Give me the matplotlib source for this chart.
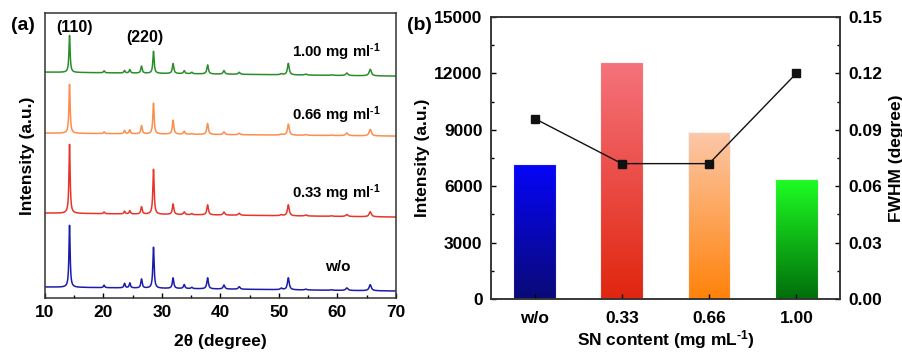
import numpy as np
import matplotlib
matplotlib.use("Agg")
import matplotlib.pyplot as plt
from matplotlib.colors import LinearSegmentedColormap

plt.rcParams['font.family'] = ['Liberation Sans', 'DejaVu Sans']
plt.rcParams['font.weight'] = 'bold'
plt.rcParams['mathtext.fontset'] = 'custom'
plt.rcParams['mathtext.rm'] = 'Liberation Sans:bold'
plt.rcParams['mathtext.bf'] = 'Liberation Sans:bold'
plt.rcParams['mathtext.default'] = 'bf'

# ---------------- data: XRD panel (a) ----------------
peak_pos = [14.2, 20.1, 23.6, 24.5, 26.5, 28.55, 31.9, 33.8, 35.1, 37.8,
            40.6, 43.2, 50.4, 51.6, 54.6, 59.0, 61.6, 65.6]
peak_hwhm = [0.12, 0.12, 0.13, 0.13, 0.14, 0.13, 0.15, 0.15, 0.15, 0.16,
             0.17, 0.18, 0.2, 0.18, 0.2, 0.2, 0.22, 0.22]
h_wo = [62, 2.5, 4.5, 5, 9, 41, 10.5, 4, 1.3, 11, 4, 2.5, 1.5, 12, 0.8, 0.5, 2.5, 6]
h_033 = [69, 1.7, 2.7, 3.3, 7.3, 45, 10.5, 2.7, 1, 10, 3, 2, 1, 11, 1, 0.5, 2, 5]
h_066 = [49, 1.7, 3.3, 4, 8.3, 30.7, 14, 3, 0.7, 11, 2.7, 1.5, 1, 11, 0.7, 0.5, 2.7, 6.5]
h_100 = [37, 2, 2.5, 3.5, 7, 22, 10, 3, 1.5, 9, 3.5, 2, 1, 11.5, 1, 0.5, 2.5, 6.5]
baselines = {'w/o': (11, 7), '0.33': (85, 81), '0.66': (165, 162), '1.00': (226, 222)}
xrd_colors = {'w/o': '#1c1caa', '0.33': '#e8352b', '0.66': '#ff8c4c', '1.00': '#2a8c2a'}
xrd_heights = {'w/o': h_wo, '0.33': h_033, '0.66': h_066, '1.00': h_100}
xrd_labels = {'w/o': 'w/o', '0.33': r'0.33 mg ml$^{\text{-1}}$',
              '0.66': r'0.66 mg ml$^{\text{-1}}$', '1.00': r'1.00 mg ml$^{\text{-1}}$'}

# ---------------- data: panel (b) ----------------
categories = ['w/o', '0.33', '0.66', '1.00']
intensity = [7200, 12600, 8900, 6400]
fwhm = [0.096, 0.072, 0.072, 0.120]
grad_top = ['#0505fa', '#f5737c', '#fcc8aa', '#1eff23']
grad_bot = ['#0a0a78', '#e0260f', '#ff820a', '#006e0a']

fig = plt.figure(figsize=(9.03, 3.53), dpi=100)

# ---------------- panel (a) ----------------
ax1 = fig.add_axes([0.0498, 0.1558, 0.3887, 0.807])
tt = np.linspace(10, 70, 4000)
for key in ['w/o', '0.33', '0.66', '1.00']:
    b0, b1 = baselines[key]
    y = b0 + (b1 - b0) * (tt - 10) / 60.0
    for c, g, h in zip(peak_pos, peak_hwhm, xrd_heights[key]):
        y = y + h * g**2 / ((tt - c)**2 + g**2)
    ax1.plot(tt, y, color=xrd_colors[key], lw=1.1)
ax1.set_xlim(10, 70)
ax1.set_ylim(0, 285)
ax1.set_yticks([])
ax1.set_xticks(range(10, 71, 10))
ax1.set_xticks(range(15, 70, 10), minor=True)
ax1.tick_params(axis='x', which='both', direction='in', labelsize=12.5, pad=5,
                top=False)
ax1.tick_params(axis='x', which='major', length=3.5, width=1)
ax1.tick_params(axis='x', which='minor', length=2.5, width=1)
for s in ax1.spines.values():
    s.set_linewidth(1.1)
    s.set_color('#333333')
ax1.set_xlabel('2θ (degree)', fontsize=12.5, fontweight='bold', labelpad=10)
ax1.set_ylabel('Intensity (a.u.)', fontsize=12.5, fontweight='bold', labelpad=7)

ax1.text(67.4, 246, xrd_labels['1.00'], ha='right', va='center', fontsize=10.8)
ax1.text(67.4, 183, xrd_labels['0.66'], ha='right', va='center', fontsize=10.8)
ax1.text(67.4, 105, xrd_labels['0.33'], ha='right', va='center', fontsize=10.8)
ax1.text(60.1, 31, xrd_labels['w/o'], ha='center', va='center', fontsize=11)
ax1.text(15.1, 271, '(110)', ha='center', va='center', fontsize=11.5)
ax1.text(27.0, 261, '(220)', ha='center', va='center', fontsize=11.5)
fig.text(11 / 903, 1 - 25 / 353, '(a)', ha='left', va='center', fontsize=14,
         fontweight='bold')

# ---------------- panel (b) ----------------
ax2 = fig.add_axes([0.5437, 0.153, 0.3865, 0.7989])
xpos = np.arange(len(categories))
bars = ax2.bar(xpos, intensity, width=0.49, color='none', edgecolor='none')
grad = np.linspace(1, 0, 256).reshape(-1, 1)
for b, ct, cb in zip(bars, grad_top, grad_bot):
    cmap = LinearSegmentedColormap.from_list('g', [cb, ct])
    x0, w, hgt = b.get_x(), b.get_width(), b.get_height()
    im = ax2.imshow(grad, cmap=cmap, aspect='auto', extent=[x0, x0 + w, 0, hgt],
                    origin='upper', zorder=1, vmin=0, vmax=1)
    im.set_clip_path(b)
ax2.bar(xpos, intensity, width=0.49, facecolor='none', edgecolor='#f4f4f4',
        lw=0.8, zorder=2)
ax2.set_xlim(-0.5, 3.5)
ax2.set_ylim(0, 15000)
ax2.set_xticks(xpos)
ax2.set_xticklabels(categories)
ax2.set_yticks(range(0, 15001, 3000))
ax2.set_yticks(range(1500, 15000, 3000), minor=True)
ax2.tick_params(axis='both', which='both', direction='in', labelsize=12.5, top=False)
ax2.tick_params(axis='x', which='major', length=3.5, width=1, pad=9)
ax2.tick_params(axis='y', which='major', length=3.5, width=1, pad=6)
ax2.tick_params(axis='y', which='minor', length=2.5, width=1)
ax2.set_xlabel(r'SN content (mg mL$^{\text{-1}}$)', fontsize=12.5, fontweight='bold',
               labelpad=1)
ax2.set_ylabel('Intensity (a.u.)', fontsize=12.5, fontweight='bold', labelpad=3)
for s in ax2.spines.values():
    s.set_linewidth(1.1)
    s.set_color('#333333')

ax3 = ax2.twinx()
ax3.plot(xpos, fwhm, color='#111111', lw=1.0, marker='s', markersize=5.5,
         zorder=5)
ax3.set_ylim(0, 0.15)
ax3.set_yticks(np.arange(0, 0.151, 0.03))
ax3.set_yticklabels(['%.2f' % v for v in np.arange(0, 0.151, 0.03)])
ax3.set_yticks(np.arange(0.015, 0.15, 0.03), minor=True)
ax3.tick_params(axis='y', which='both', direction='in', labelsize=12.5, pad=6)
ax3.tick_params(axis='y', which='major', length=3.5, width=1)
ax3.tick_params(axis='y', which='minor', length=2.5, width=1)
ax3.set_ylabel('FWHM (degree)', fontsize=12.5, fontweight='bold', labelpad=5)
for s in ax3.spines.values():
    s.set_linewidth(1.1)
    s.set_color('#333333')
fig.text(407 / 903, 1 - 25 / 353, '(b)', ha='left', va='center', fontsize=14,
         fontweight='bold')

fig.savefig('out.png', dpi=100)
